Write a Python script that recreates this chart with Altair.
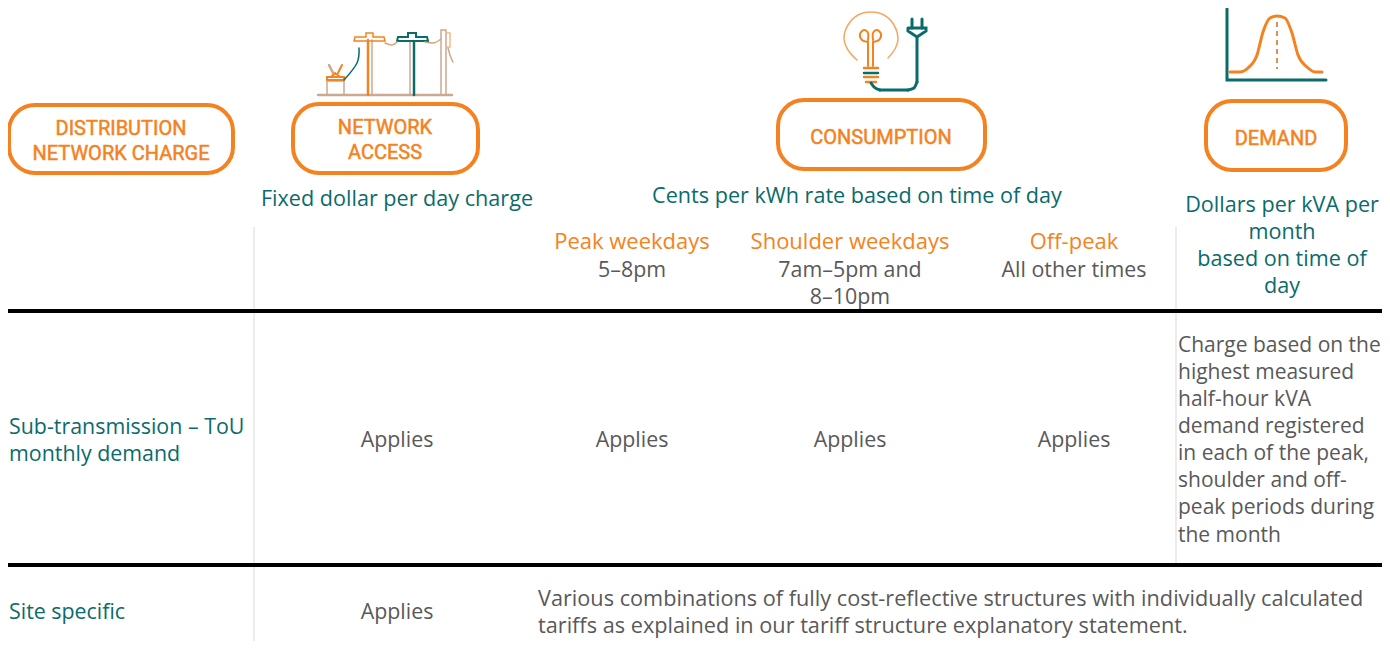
import altair as alt
import pandas as pd

FONT = "Open Sans"
PILL_FONT = "Roboto"
ORANGE = "#F58220"
TEAL = "#0B6B6B"
GREY = "#595959"
TAN = "#CBA98F"

X = alt.Scale(domain=[8, 1382], range=[0, 1374])
Y = alt.Scale(domain=[8, 641], range=[0, 633])

# pills
pill_x1 = [9, 293, 778, 1206]
pill_x2 = [233, 478, 985, 1346]
pill_y1 = [105, 104, 100, 101]
pill_y2 = [173, 173, 169, 170]

# table rules
hrule_y = [311, 565]
vrule_x = [254, 1176]
vrule_y1 = [227, 227]
vrule_y2 = [641, 563]

# text
pill_text = ["DISTRIBUTION", "NETWORK CHARGE", "NETWORK", "ACCESS", "CONSUMPTION", "DEMAND"]
pill_tx = [121, 121, 385, 385, 881, 1276]
pill_ty = [135, 160, 134, 159, 144, 145]

head_text = ["Fixed dollar per day charge", "Cents per kWh rate based on time of day",
             "Dollars per kVA per", "month", "based on time of", "day"]
head_tx = [397, 857, 1282, 1282, 1282, 1282]
head_ty = [206, 203, 212, 239, 266, 293]

period_text = ["Peak weekdays", "Shoulder weekdays", "Off-peak"]
period_tx = [632, 850, 1074]
period_ty = [249, 249, 249]

time_text = ["5–8pm", "7am–5pm and", "8–10pm", "All other times",
             "Applies", "Applies", "Applies", "Applies", "Applies"]
time_tx = [632, 850, 850, 1074, 397, 632, 850, 1074, 397]
time_ty = [277, 277, 304, 277, 447, 447, 447, 447, 619]

row_text = ["Sub-transmission – ToU", "monthly demand", "Site specific"]
row_tx = [9, 9, 9]
row_ty = [434, 461, 619]

demand_note = ["Charge based on the", "highest measured", "half-hour kVA", "demand registered",
               "in each of the peak,", "shoulder and off-", "peak periods during", "the month"]
demand_note_tx = [1178] * 8
demand_note_ty = [352, 379, 406, 433, 460, 487, 514, 542]

site_note = ["Various combinations of fully cost-reflective structures with individually calculated",
             "tariffs as explained in our tariff structure explanatory statement."]
site_note_tx = [538, 538]
site_note_ty = [605.5, 632.5]

# icon strokes: (colour, width, interpolation, points)
icon_paths = [
    # poles
    (TAN, 2.5, "linear", [(318, 95), (452, 95)]),
    (ORANGE, 2.5, "linear", [(368, 40), (368, 95)]),
    (TAN, 1.5, "linear", [(372, 40), (372, 95)]),
    (ORANGE, 1.5, "linear", [(354, 41), (355, 37), (366, 37), (366, 33), (373, 33), (373, 37), (384, 37), (385, 41), (354, 41)]),
    (TEAL, 2.5, "linear", [(414, 41), (414, 95)]),
    (TAN, 1.5, "linear", [(410, 41), (410, 95)]),
    (TEAL, 2, "linear", [(397, 41), (398, 37), (408, 37), (408, 33), (416, 33), (416, 37), (427, 37), (428, 41), (397, 41)]),
    (TAN, 1.5, "linear", [(441, 95), (441, 30), (446, 30), (446, 95)]),
    ("#F2B98A", 1.5, "linear", [(446, 33), (450, 33), (450, 47), (446, 47)]),
    (TAN, 1.5, "linear", [(327, 81), (344, 81), (344, 95), (327, 95), (327, 81)]),
    (ORANGE, 2, "linear", [(327, 80), (327, 77), (344, 77), (344, 80), (327, 80)]),
    (ORANGE, 2, "linear", [(332, 76), (335, 73), (339, 76)]),
    (TAN, 2.5, "linear", [(329, 65), (333, 73)]),
    (ORANGE, 2, "linear", [(342, 65), (338, 73)]),
    ("#D9A27A", 1.5, "monotone", [(385, 43), (392, 45), (397, 42)]),
    ("#D9A27A", 1.5, "monotone", [(425, 42), (433, 43), (441, 39)]),
    (TAN, 1.5, "monotone", [(448, 48), (450, 55), (453, 62)]),
    (TEAL, 1.5, "cardinal", [(359, 48), (357, 63), (344, 80)]),
    # bulb
    ("#F5A767", 1.5, "cardinal", [(857, 60), (848, 50), (844, 38), (848, 25), (858, 15), (871, 12), (884, 15), (894, 25), (898, 38), (895, 49), (888, 58)]),
    (ORANGE, 2, "linear", [(868, 66), (868, 42)]),
    (ORANGE, 2, "linear", [(873, 66), (873, 42)]),
    (ORANGE, 2, "cardinal", [(868, 42), (862, 40), (860, 34), (864, 30), (868, 33), (868, 40)]),
    (ORANGE, 2, "cardinal", [(873, 42), (879, 40), (881, 34), (877, 30), (873, 33), (873, 40)]),
    (ORANGE, 2.5, "linear", [(864, 68), (878, 68)]),
    (TEAL, 2.5, "linear", [(864, 73), (878, 73)]),
    (ORANGE, 2.5, "linear", [(864, 77), (878, 77)]),
    (ORANGE, 2.5, "linear", [(866, 82), (876, 82)]),
    (TEAL, 3, "monotone", [(871, 83), (874, 87), (880, 90)]),
    (TEAL, 3, "linear", [(880, 90), (908, 90)]),
    (TEAL, 3, "monotone", [(908, 90), (914, 88), (917, 82)]),
    (TEAL, 3, "linear", [(917, 82), (917, 38)]),
    (TEAL, 3, "linear", [(908, 28), (926, 28), (926, 31), (917, 37), (908, 31), (908, 28)]),
    (TEAL, 3, "linear", [(912, 28), (912, 19)]),
    (TEAL, 3, "linear", [(922, 28), (922, 19)]),
    # demand curve
    (TEAL, 3, "linear", [(1227, 9), (1227, 80), (1326, 80)]),
    (ORANGE, 3, "monotone", [(1230, 72), (1240, 72), (1248, 68), (1257, 55), (1263, 32), (1270, 18), (1277, 16), (1285, 18), (1292, 33), (1298, 55), (1307, 67), (1315, 72), (1322, 72)]),
]
dash_x = [1277, 1277]
dash_y = [22, 69]

rows = []
for i, (c, w, itp, pts) in enumerate(icon_paths):
    for j, (px, py) in enumerate(pts):
        rows.append(dict(id=i, seq=j, x=px, y=py, c=c, w=w, itp=itp))
paths = pd.DataFrame(rows)


def text_layer(texts, xs, ys, color, size, align="center", stroke=None, font=FONT):
    df = pd.DataFrame(dict(t=texts, x=xs, y=ys))
    kw = dict(font=font, fontSize=size, color=color, align=align, baseline="alphabetic")
    if stroke:
        kw.update(stroke=stroke, strokeWidth=0.5)
    return alt.Chart(df).mark_text(**kw).encode(
        x=alt.X("x:Q", scale=X, axis=None), y=alt.Y("y:Q", scale=Y, axis=None), text="t:N")


layers = []
pills = pd.DataFrame(dict(x=pill_x1, x2=pill_x2, y=pill_y1, y2=pill_y2))
layers.append(alt.Chart(pills).mark_rect(fill="white", stroke=ORANGE, strokeWidth=4, cornerRadius=26).encode(
    x=alt.X("x:Q", scale=X, axis=None), x2="x2:Q", y=alt.Y("y:Q", scale=Y, axis=None), y2="y2:Q"))

vr = pd.DataFrame(dict(x=vrule_x, y=vrule_y1, y2=vrule_y2))
layers.append(alt.Chart(vr).mark_rule(color="#D9D9D9", strokeWidth=1).encode(
    x=alt.X("x:Q", scale=X, axis=None), y=alt.Y("y:Q", scale=Y, axis=None), y2="y2:Q"))
hr = pd.DataFrame(dict(y=hrule_y, x=[8, 8], x2=[1382, 1382]))
layers.append(alt.Chart(hr).mark_rule(color="black", strokeWidth=4).encode(
    x=alt.X("x:Q", scale=X, axis=None), x2="x2:Q", y=alt.Y("y:Q", scale=Y, axis=None)))

for itp in ["linear", "monotone", "cardinal"]:
    sub = paths[paths.itp == itp]
    layers.append(alt.Chart(sub).mark_line(interpolate=itp, strokeCap="round").encode(
        x=alt.X("x:Q", scale=X, axis=None), y=alt.Y("y:Q", scale=Y, axis=None),
        color=alt.Color("c:N", scale=None), strokeWidth=alt.StrokeWidth("w:Q", scale=None),
        detail="id:N", order="seq:Q"))
dash = pd.DataFrame(dict(x=dash_x, y=dash_y))
layers.append(alt.Chart(dash).mark_line(color="#D9915C", strokeWidth=2, strokeDash=[5, 4]).encode(
    x=alt.X("x:Q", scale=X, axis=None), y=alt.Y("y:Q", scale=Y, axis=None)))

layers.append(text_layer(pill_text, pill_tx, pill_ty, ORANGE, 20, stroke=ORANGE, font=PILL_FONT))
layers.append(text_layer(head_text, head_tx, head_ty, TEAL, 21.6))
layers.append(text_layer(period_text, period_tx, period_ty, ORANGE, 22))
layers.append(text_layer(time_text, time_tx, time_ty, GREY, 21.4))
layers.append(text_layer(row_text, row_tx, row_ty, TEAL, 21.4, align="left"))
layers.append(text_layer(demand_note, demand_note_tx, demand_note_ty, GREY, 21, align="left"))
layers.append(text_layer(site_note, site_note_tx, site_note_ty, GREY, 21.7, align="left"))

chart = alt.layer(*layers).properties(
    width=1374, height=633, padding=0, autosize=alt.AutoSizeParams(type="none"),
).configure_view(stroke=None)

chart.save("out.html", embed_options={"renderer": "svg", "actions": False})
